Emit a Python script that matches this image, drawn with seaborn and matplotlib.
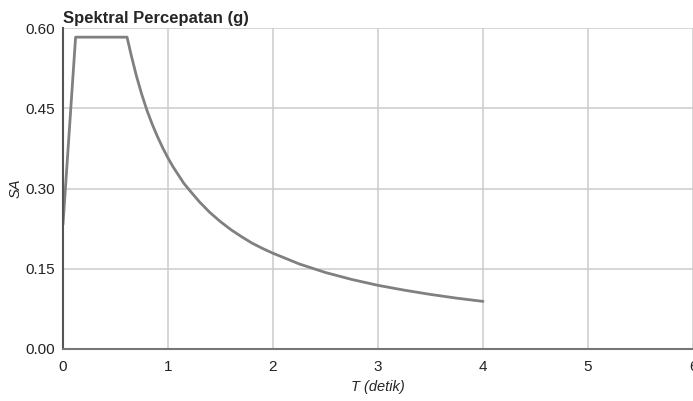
import matplotlib
matplotlib.use("Agg")
import matplotlib.pyplot as plt
import seaborn as sns
import pandas as pd

# values
periods = [0.0, 0.12, 0.61, 0.65, 0.7, 0.75, 0.8, 0.85, 0.9, 0.95, 1.0, 1.05, 1.1,
           1.15, 1.2, 1.3, 1.4, 1.5, 1.6, 1.7, 1.8, 1.9, 2.0,
           2.25, 2.5, 2.75, 3.0, 3.25, 3.5, 3.75, 4.0]
sa_values = [0.233, 0.583, 0.583, 0.549, 0.51, 0.476, 0.446, 0.42, 0.397, 0.376,
             0.357, 0.34, 0.325, 0.31, 0.298, 0.275, 0.255, 0.238, 0.223, 0.21,
             0.198, 0.188, 0.179, 0.159, 0.143, 0.130, 0.119, 0.110, 0.102, 0.095, 0.089]
x_ticks = [0, 1, 2, 3, 4, 5, 6]
y_ticks = [0.0, 0.15, 0.30, 0.45, 0.60]

sns.set_style("white")
plt.rcParams['font.family'] = ['Liberation Sans', 'DejaVu Sans']

df = pd.DataFrame({'T': periods, 'SA': sa_values})

fig = plt.figure(figsize=(6.93, 4.01), dpi=100)
ax = fig.add_axes([0.0909, 0.1297, 0.9091, 0.8003])

ax.grid(True, color='#cccccc', linewidth=1.1)
ax.set_axisbelow(True)
sns.lineplot(data=df, x='T', y='SA', color='#808080', linewidth=2, ax=ax)

ax.set_xlim(0, 6)
ax.set_ylim(0, 0.6)
ax.set_xticks(x_ticks)
ax.set_yticks(y_ticks)
ax.set_yticklabels([f"{v:.2f}" for v in y_ticks])
ax.tick_params(axis='both', labelsize=11, colors='#222222', length=4, width=1)
ax.tick_params(axis='x', pad=4)
ax.tick_params(axis='y', pad=2)

for side in ['top', 'right']:
    ax.spines[side].set_visible(False)
ax.spines['left'].set_color('#555555')
ax.spines['bottom'].set_color('#777777')
ax.spines['left'].set_linewidth(1.5)
ax.spines['bottom'].set_linewidth(1.5)

ax.set_xlabel('T (detik)', fontsize=10.5, fontstyle='italic', labelpad=4)
ax.set_ylabel('SA', fontsize=10.5, fontstyle='italic', labelpad=2)
ax.set_title('Spektral Percepatan (g)', fontsize=12, fontweight='bold', loc='left', pad=4)

fig.savefig('out.png', dpi=100)
